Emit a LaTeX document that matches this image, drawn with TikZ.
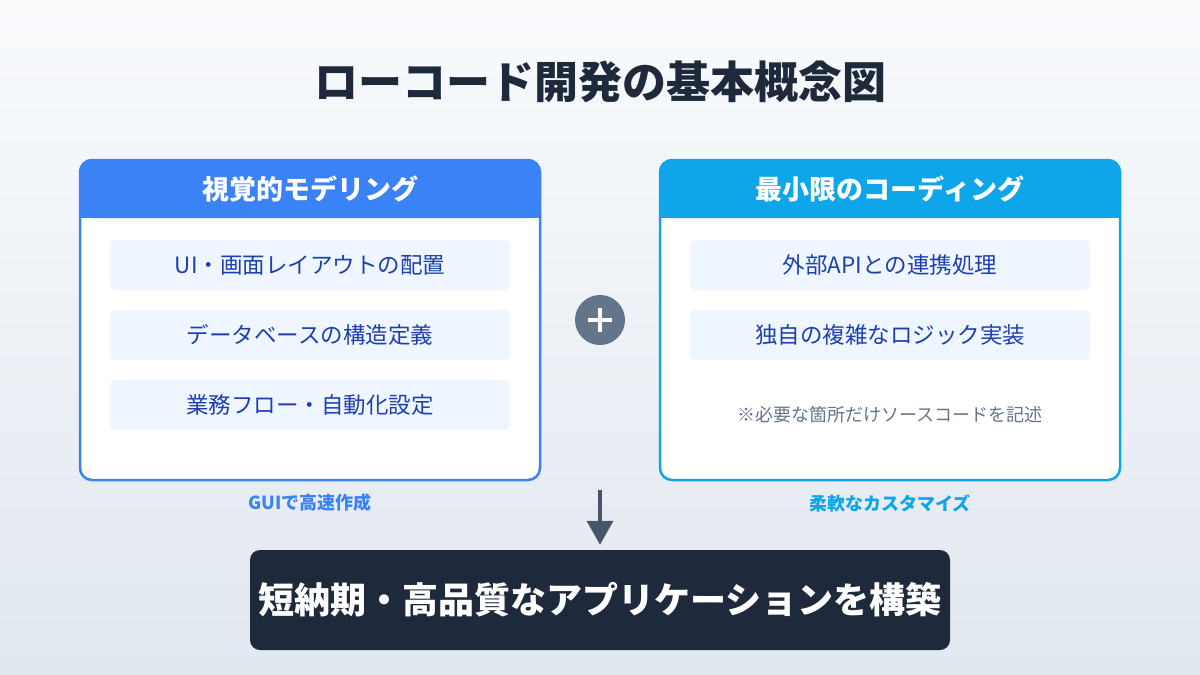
\documentclass[tikz,border=0pt]{standalone}
\usepackage{fontspec}
\setmainfont{Noto Sans CJK JP}
\usetikzlibrary{arrows.meta}
\definecolor{bgtop}{HTML}{F8FAFC}
\definecolor{bgbot}{HTML}{E2E8F0}
\definecolor{blu}{HTML}{3B82F6}
\definecolor{sky}{HTML}{0EA5E9}
\definecolor{itembg}{HTML}{EFF6FF}
\definecolor{itemtx}{HTML}{1E40AF}
\definecolor{dark}{HTML}{1E293B}
\definecolor{slate}{HTML}{64748B}
\definecolor{arr}{HTML}{475569}
\tikzset{
  panel/.style={draw=#1, line width=2.5pt, fill=white, rounded corners=12pt},
  head/.style={text=white, font=\fontsize{27}{32}\selectfont\bfseries},
  item/.style={fill=itembg, rounded corners=5pt, minimum width=400pt, minimum height=50pt, text=itemtx, font=\fontsize{22.5}{26}\selectfont},
  sub/.style={font=\fontsize{18}{22}\selectfont\bfseries, text=#1}
}
\begin{document}
\begin{tikzpicture}[x=1pt,y=-1pt]
\shade[top color=bgtop,bottom color=bgbot] (0,0) rectangle (1200,675);
\useasboundingbox (0,0) rectangle (1200,675);
\node[text=dark, font=\fontsize{44}{50}\selectfont\bfseries] (title) at (600,82) {ローコード開発の基本概念図};
% left panel
\draw[panel=blu] (80,160) rectangle (540,480);
\fill[blu, rounded corners=12pt] (80,218) -- (80,160) -- (540,160) -- (540,218) -- cycle;
\fill[blu] (78.75,200) rectangle (541.25,218);
\node[head] (lh) at (310,189) {視覚的モデリング};
\node[item] (l1) at (310,265) {UI・画面レイアウトの配置};
\node[item] (l2) at (310,335) {データベースの構造定義};
\node[item] (l3) at (310,405) {業務フロー・自動化設定};
\node[sub=blu] (ls) at (310,503) {GUIで高速作成};
% right panel
\draw[panel=sky] (660,160) rectangle (1120,480);
\fill[sky, rounded corners=12pt] (660,218) -- (660,160) -- (1120,160) -- (1120,218) -- cycle;
\fill[sky] (658.75,200) rectangle (1121.25,218);
\node[head] (rh) at (890,189) {最小限のコーディング};
\node[item] (r1) at (890,265) {外部APIとの連携処理};
\node[item] (r2) at (890,335) {独自の複雑なロジック実装};
\node[text=slate, font=\fontsize{18}{22}\selectfont] (rn) at (890,415) {※必要な箇所だけソースコードを記述};
\node[sub=sky] (rs) at (890,503) {柔軟なカスタマイズ};
% plus
\node[circle, fill=slate, minimum size=50pt, inner sep=0] (plus) at (600,320) {};
\draw[white, line width=4.5pt] (588,320) -- (612,320) (600,308) -- (600,332);
% bottom
\node[fill=dark, rounded corners=10pt, minimum width=700pt, minimum height=100pt, text=white, font=\fontsize{36}{42}\selectfont\bfseries] (res) at (600,600) {短納期・高品質なアプリケーションを構築};
\coordinate (a0) at (600,490);
\draw[arr, line width=3.5pt, -{Triangle[length=24pt,width=26pt]}] (a0) -- ([yshift=5pt]res.north);
\end{tikzpicture}
\end{document}
